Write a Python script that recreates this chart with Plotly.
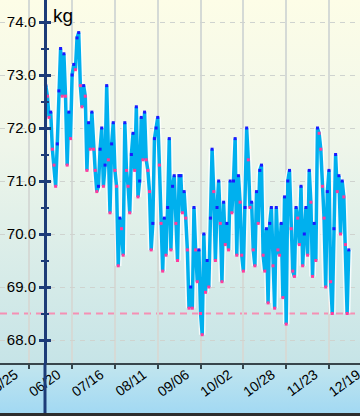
import base64
import pandas as pd
import plotly.graph_objects as go

# ---------------- data ----------------
start_date = "2023-06-30"
weights = [
    72.8, 72.6, 72.2, 72.3, 71.6, 71.3, 70.9, 71.7, 72.7, 73.5,
    72.6, 73.4, 72.6, 71.3, 72.3, 71.8, 73.0, 73.2, 73.1, 73.7,
    73.8, 72.8, 72.4, 72.8, 72.6, 71.2, 72.1, 71.6, 72.3, 71.6,
    71.2, 70.8, 70.9, 71.6, 72.0, 70.9, 71.3, 72.8, 71.4, 70.4,
    71.7, 72.1, 71.2, 70.9, 69.4, 70.3, 70.1, 69.6, 72.1, 71.2,
    70.9, 70.4, 71.5, 71.9, 71.2, 72.4, 70.7, 71.0, 72.2, 71.4,
    72.3, 71.4, 71.2, 70.8, 69.7, 70.2, 71.8, 72.0, 72.2, 71.3,
    70.2, 69.3, 70.3, 69.6, 70.5, 71.8, 69.7, 70.9, 71.1, 70.2,
    69.5, 71.1, 71.1, 70.4, 70.8, 70.3, 69.7, 68.6, 69.0, 68.6,
    70.5, 69.7, 69.1, 69.7, 68.5, 68.1, 70.0, 68.9, 69.5, 69.0,
    70.3, 71.6, 70.8, 69.5, 70.5, 71.0, 70.2, 69.1, 70.6, 69.8,
    70.2, 69.7, 71.0, 70.4, 71.0, 71.8, 69.6, 71.1, 70.6, 69.6,
    69.3, 70.5, 72.0, 71.4, 70.5, 70.6, 69.7, 69.4, 70.8, 70.2,
    71.2, 71.3, 69.6, 69.3, 70.1, 68.7, 70.2, 70.5, 69.4, 68.6,
    70.5, 69.7, 69.6, 70.2, 68.8, 70.7, 68.3, 71.0, 71.2, 70.1,
    69.3, 69.2, 70.5, 70.3, 69.8, 70.9, 69.4, 70.0, 70.5, 69.6,
    71.2, 70.6, 69.2, 70.2, 69.5, 72.0, 71.9, 71.6, 70.9, 70.3,
    69.0, 70.8, 71.2, 69.1, 68.5, 70.1, 71.5, 70.8, 71.1, 70.0,
    71.0, 70.7, 69.8, 68.5, 69.7,
]
dates = pd.date_range(start_date, periods=len(weights), freq="D")
target_weight = 68.5

grid_dates = ["2023-05-25", "2023-06-20", "2023-07-16", "2023-08-11", "2023-09-06",
              "2023-10-02", "2023-10-28", "2023-11-23", "2023-12-19"]
grid_labels = ["05/25", "06/20", "07/16", "08/11", "09/06", "10/02", "10/28", "11/23", "12/19"]
y_ticks = [68, 69, 70, 71, 72, 73, 74]
y_minor = [68.5, 69.5, 70.5, 71.5, 72.5, 73.5]

# ---------------- geometry helpers ----------------
W, H, PLOT_H = 360, 416, 363
ppd = 1.6467                      # pixels per day
origin = pd.Timestamp("2023-06-20")
origin_px = 29.3
x_start = origin - pd.Timedelta(days=origin_px / ppd)
x_end = origin + pd.Timedelta(days=(W - origin_px) / ppd)
xr = [x_start.isoformat(), x_end.isoformat()]
label_shift = pd.Timedelta(days=28.5 / ppd)
label_dates = [(pd.Timestamp(d) + label_shift).isoformat() for d in grid_dates]
yr = [67.566, 74.415]

navy = "#1d3c78"
marker_colors = ["#1a1aff"] + [
    "#1a1aff" if weights[i] >= weights[i - 1] else "#ff3c9c" for i in range(1, len(weights))
]

# ---------------- background gradient (svg data uri) ----------------
svg = f'''<svg xmlns="http://www.w3.org/2000/svg" width="{W}" height="{H}" viewBox="0 0 {W} {H}" preserveAspectRatio="none">
<defs>
<linearGradient id="a" x1="0" y1="0" x2="0" y2="1">
<stop offset="0" stop-color="#fdfde7"/>
<stop offset="0.4" stop-color="#eff6ea"/>
<stop offset="1" stop-color="#c6e4e7"/>
</linearGradient>
<linearGradient id="b" x1="0" y1="0" x2="0" y2="1">
<stop offset="0" stop-color="#c3e6ee"/>
<stop offset="1" stop-color="#a0d8f3"/>
</linearGradient>
</defs>
<rect x="0" y="0" width="{W}" height="{PLOT_H}" fill="url(#a)"/>
<rect x="0" y="{PLOT_H}" width="{W}" height="{H - PLOT_H}" fill="url(#b)"/>
</svg>'''
bg_uri = "data:image/svg+xml;base64," + base64.b64encode(svg.encode()).decode()

fig = go.Figure()
fig.add_trace(go.Scatter(x=dates, y=weights, mode="lines",
                         line=dict(color="rgba(255,255,255,0.8)", width=6.5),
                         hoverinfo="skip", showlegend=False))
fig.add_trace(go.Scatter(x=dates, y=weights, mode="lines+markers",
                         line=dict(color="#00b0ee", width=3.5),
                         marker=dict(symbol="square", size=3, color=marker_colors, line=dict(width=0)),
                         showlegend=False))
# helper empty traces so overlay axes exist
fig.add_trace(go.Scatter(x=[], y=[], xaxis="x2", yaxis="y", showlegend=False))
fig.add_trace(go.Scatter(x=[], y=[], xaxis="x", yaxis="y2", showlegend=False))

fig.update_layout(
    width=W, height=H,
    margin=dict(l=0, r=0, t=0, b=H - PLOT_H, pad=0, autoexpand=False),
    paper_bgcolor="#c6e4e7",
    plot_bgcolor="rgba(0,0,0,0)",
    font=dict(family="Liberation Sans, Arial, sans-serif", color="#000000"),
    hovermode=False,
    images=[dict(source=bg_uri, xref="paper", yref="paper", x=0, y=1,
                 sizex=1, sizey=H / PLOT_H, xanchor="left", yanchor="top",
                 sizing="stretch", layer="below")],
    xaxis=dict(type="date", range=xr, tickvals=grid_dates, showticklabels=False,
               automargin=False,
               showgrid=True, gridcolor="#d5dad6", gridwidth=1.5,
               showline=True, linecolor="#38464c", linewidth=2,
               ticks="outside", ticklen=4, tickwidth=1.5, tickcolor="#38464c",
               zeroline=False),
    xaxis2=dict(type="date", range=xr, overlaying="x", anchor="y", side="bottom",
                automargin=False, ticklabeloverflow="allow",
                tickvals=label_dates, ticktext=grid_labels, tickangle=-36,
                tickfont=dict(size=14, color="#000000"),
                showgrid=False, showline=False, ticks="", zeroline=False),
    yaxis=dict(range=yr, anchor="free", position=45 / W, side="left", automargin=False,
               tickvals=y_ticks, ticktext=[f"{v:.1f}" for v in y_ticks],
               tickfont=dict(size=15, color="#000000"),
               showgrid=True, gridcolor="#cfd3cf", griddash="5px,5px", gridwidth=1,
               showline=True, linecolor=navy, linewidth=3,
               ticks="outside", ticklen=5, tickwidth=3, tickcolor=navy,
               minor=dict(tickvals=y_minor, ticks="outside", ticklen=3, tickwidth=2,
                          tickcolor=navy, showgrid=False),
               zeroline=False),
    yaxis2=dict(range=yr, overlaying="y", anchor="free", position=45 / W, side="left",
                automargin=False,
                tickvals=y_ticks, showticklabels=False, showgrid=False, showline=False,
                ticks="inside", ticklen=5, tickwidth=3, tickcolor=navy,
                minor=dict(tickvals=y_minor, ticks="inside", ticklen=3, tickwidth=2,
                           tickcolor=navy, showgrid=False),
                zeroline=False),
    shapes=[
        dict(type="line", xref="paper", yref="y", x0=0, x1=1, y0=target_weight, y1=target_weight,
             line=dict(color="#f590b4", width=2, dash="7px,5px"), layer="below"),
        dict(type="line", xref="paper", yref="paper", x0=45 / W, x1=45 / W,
             y0=-(H - PLOT_H) / PLOT_H, y1=0, line=dict(color=navy, width=3)),
        dict(type="line", xref="paper", yref="paper", x0=0, x1=1,
             y0=-(H - PLOT_H - 1.5) / PLOT_H, y1=-(H - PLOT_H - 1.5) / PLOT_H,
             line=dict(color="#2d2d2d", width=3)),
    ],
    annotations=[dict(text="kg", xref="paper", yref="paper", x=51 / W, y=1 - 3 / PLOT_H,
                      xanchor="left", yanchor="top", showarrow=False,
                      font=dict(size=19, color="#000000"))],
)

fig.write_html("out.html", config={"displayModeBar": False},
               post_script="document.body.style.margin='0';document.body.style.overflow='hidden';")
